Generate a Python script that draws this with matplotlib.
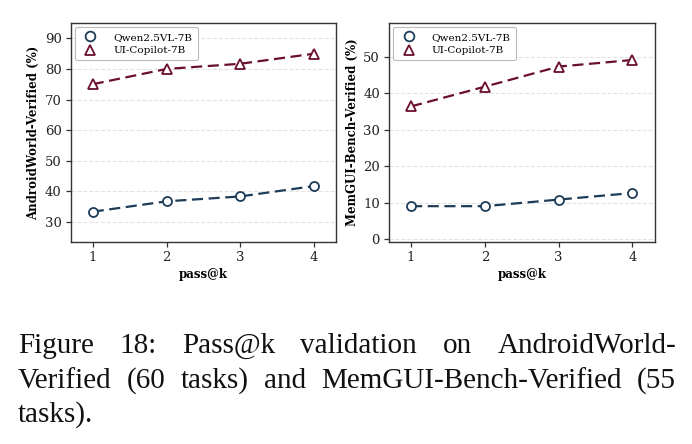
import matplotlib
matplotlib.use("Agg")
import matplotlib.pyplot as plt
from matplotlib.lines import Line2D

k_values = [1, 2, 3, 4]
series_names = ["Qwen2.5VL-7B", "UI-Copilot-7B"]
aw_qwen = [33.3, 36.7, 38.3, 41.7]
aw_copilot = [75.0, 80.0, 81.7, 85.0]
mg_qwen = [9.1, 9.1, 10.9, 12.7]
mg_copilot = [36.4, 41.8, 47.3, 49.1]
aw_yticks = [30, 40, 50, 60, 70, 80, 90]
mg_yticks = [0, 10, 20, 30, 40, 50]
xlabel = "pass@k"
aw_ylabel = "AndroidWorld-Verified (%)"
mg_ylabel = "MemGUI-Bench-Verified (%)"
caption_lines = [
    ["Figure", "18:", "Pass@k", "validation", "on", "AndroidWorld-"],
    ["Verified", "(60", "tasks)", "and", "MemGUI-Bench-Verified", "(55"],
    ["tasks)."],
]

c_qwen = "#1d3c58"
c_cop = "#6a0f2c"
serif = ["DejaVu Serif"]

fig = plt.figure(figsize=(6.92, 4.44), dpi=100)
ax1 = fig.add_axes([0.102, 0.455, 0.384, 0.493])
ax2 = fig.add_axes([0.562, 0.455, 0.384, 0.493])


def style(ax, yq, yc, yticks, ylim, ylabel):
    ax.plot(k_values, yq, color=c_qwen, ls=(0, (5, 2.5)), lw=1.6, marker="o",
            ms=6.5, mfc="white", mec=c_qwen, mew=1.3, zorder=3)
    ax.plot(k_values, yc, color=c_cop, ls=(0, (5, 2.5)), lw=1.6, marker="^",
            ms=7, mfc="white", mec=c_cop, mew=1.3, zorder=3)
    ax.set_xlim(0.7, 4.3)
    ax.set_ylim(*ylim)
    ax.set_xticks(k_values)
    ax.set_yticks(yticks)
    ax.yaxis.grid(True, ls="--", color="#e3e3e3", lw=0.8)
    ax.set_axisbelow(True)
    for s in ax.spines.values():
        s.set_color("#333333")
        s.set_linewidth(1.0)
    ax.tick_params(direction="out", length=3.5, width=0.9, color="#333333",
                   labelsize=9.5, pad=3)
    for lab in ax.get_xticklabels() + ax.get_yticklabels():
        lab.set_family(serif)
        lab.set_color("#222222")
    ax.set_xlabel(xlabel, fontsize=8.5, fontweight="bold", family=serif, labelpad=3)
    ax.set_ylabel(ylabel, fontsize=8.5, fontweight="bold", family=serif, labelpad=3)
    handles = [
        Line2D([], [], ls="none", marker="o", ms=7, mfc="white", mec=c_qwen, mew=1.3),
        Line2D([], [], ls="none", marker="^", ms=7, mfc="white", mec=c_cop, mew=1.3),
    ]
    leg = ax.legend(handles, series_names, loc="upper left", prop={"family": serif, "size": 7.5},
                    frameon=True, fancybox=True, edgecolor="#bbbbbb", framealpha=1,
                    handletextpad=1.2, borderpad=0.5, labelspacing=0.4,
                    bbox_to_anchor=(0.0, 1.0), borderaxespad=0.4)
    leg.get_frame().set_linewidth(0.8)


style(ax1, aw_qwen, aw_copilot, aw_yticks, (23.4, 95.0), aw_ylabel)
style(ax2, mg_qwen, mg_copilot, mg_yticks, (-0.7, 59.2), mg_ylabel)

# justified caption
cap_font = dict(family=["Liberation Serif"], fontsize=21, color="#111111")
x_left, x_right = 18, 676
line_y = [353, 388, 422]
fig.canvas.draw()
renderer = fig.canvas.get_renderer()
W, H = fig.bbox.width, fig.bbox.height
for words, yb in zip(caption_lines, line_y):
    texts = [fig.text(0, 1 - yb / H, w, va="baseline", ha="left", **cap_font) for w in words]
    widths = [t.get_window_extent(renderer).width for t in texts]
    if len(words) == 1:
        texts[0].set_x(x_left / W)
        continue
    gap = (x_right - x_left - sum(widths)) / (len(words) - 1)
    x = x_left
    for t, w in zip(texts, widths):
        t.set_x(x / W)
        x += w + gap

fig.savefig("out.png", dpi=100)
